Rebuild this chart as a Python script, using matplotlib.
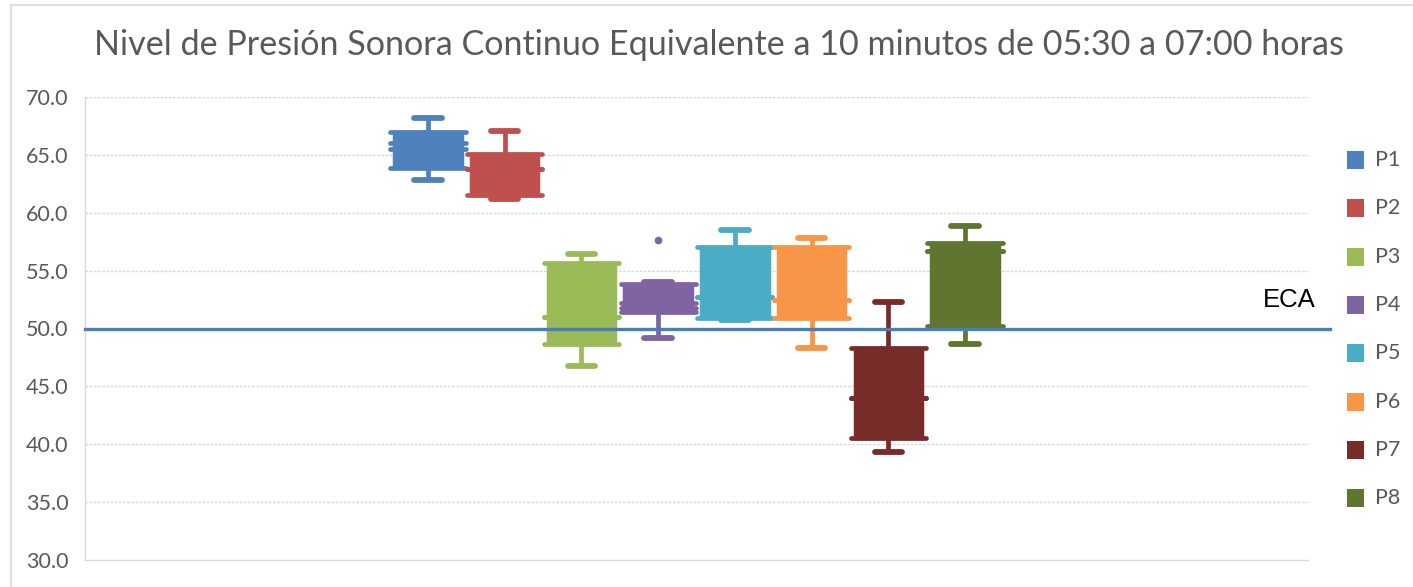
import matplotlib
matplotlib.use("Agg")
import matplotlib.pyplot as plt
from matplotlib.patches import Rectangle
from matplotlib.lines import Line2D

plt.rcParams["font.family"] = ["Lato", "DejaVu Sans"]

# Box-and-whisker statistics per monitoring point (dB)
puntos = ["P1", "P2", "P3", "P4", "P5", "P6", "P7", "P8"]
bigote_sup = [68.2, 67.1, 56.4, 54.0, 58.5, 57.85, 52.3, 58.85]
cuartil_3 = [67.0, 65.1, 55.7, 53.85, 57.0, 57.0, 48.35, 57.4]
mediana = [66.0, 63.8, 51.0, 52.2, 52.7, 52.5, 44.0, 56.7]
media = [65.5, 63.8, 51.0, 51.75, 52.7, 52.5, 44.0, 56.7]
cuartil_1 = [63.85, 61.5, 48.65, 51.45, 50.9, 50.9, 40.5, 50.2]
bigote_inf = [62.83, 61.2, 46.76, 49.2, 50.7, 48.35, 39.36, 48.66]
atipicos = {"P4": [57.65]}
eca = 50.0
eca_label = "ECA"
titulo = "Nivel de Presión Sonora Continuo Equivalente a 10 minutos de 05:30 a 07:00 horas"
y_ticks = [30, 35, 40, 45, 50, 55, 60, 65, 70]

colores = ["#4F81BD", "#C0504D", "#9BBB59", "#8064A2",
           "#4BACC6", "#F79646", "#772C2A", "#5F7530"]

W, H = 1413, 587
fig = plt.figure(figsize=(W / 100, H / 100), dpi=100)
ax = fig.add_axes([85 / W, 1 - 560 / H, (1308 - 85) / W, (560 - 97) / H])

gray_txt = "#595959"
grid_c = "#D9D9D9"

ax.set_ylim(30, 70)
ax.set_xlim(-4.47, 11.47)
ax.set_yticks(y_ticks)
ax.set_yticklabels([f"{v:.1f}" for v in y_ticks], color=gray_txt, fontsize=15.5)
ax.tick_params(axis="y", length=0, pad=12)
ax.set_xticks([])
for s in ["top", "right"]:
    ax.spines[s].set_visible(False)
for s in ["left", "bottom"]:
    ax.spines[s].set_color(grid_c)
    ax.spines[s].set_linewidth(1)
    ax.spines[s].set_linestyle((0, (2, 1)))
for v in y_ticks[1:]:
    ax.axhline(v, color=grid_c, lw=1, ls=(0, (2, 1)), zorder=1)

box_w = 0.88
ext = 0.05
cap_w = 0.36
lw_line = 3.4

for i, nombre in enumerate(puntos):
    c = colores[i]
    x = i
    # whiskers
    ax.plot([x, x], [cuartil_3[i], bigote_sup[i]], color=c, lw=lw_line, solid_capstyle="butt", zorder=3)
    ax.plot([x, x], [bigote_inf[i], cuartil_1[i]], color=c, lw=lw_line, solid_capstyle="butt", zorder=3)
    for yv in (bigote_sup[i], bigote_inf[i]):
        ax.plot([x - cap_w / 2, x + cap_w / 2], [yv, yv], color=c, lw=lw_line + 0.8,
                solid_capstyle="round", zorder=3)
    # box body
    ax.add_patch(Rectangle((x - box_w / 2, cuartil_1[i]), box_w, cuartil_3[i] - cuartil_1[i],
                           facecolor=c, edgecolor=c, lw=2.5, joinstyle="round", zorder=4))
    # quartile, median and mean lines
    for yv in (cuartil_1[i], cuartil_3[i], mediana[i], media[i]):
        ax.plot([x - box_w / 2 - ext, x + box_w / 2 + ext], [yv, yv], color=c, lw=lw_line,
                solid_capstyle="round", zorder=5)
    for yv in atipicos.get(nombre, []):
        ax.plot([x], [yv], "o", color=c, ms=4.5, zorder=5)

# ECA reference line
ax.plot([0, (1330 - 85) / (1308 - 85)], [eca, eca], transform=ax.get_yaxis_transform(),
        color="#4A7EBB", lw=2.4, clip_on=False, zorder=6)
fig.text(1289 / W, 1 - 300 / H, eca_label, fontsize=18.5, color="black",
         ha="center", va="center", family=["Liberation Sans", "DejaVu Sans"])

# title
fig.text(719 / W, 1 - 45 / H, titulo, fontsize=24.6, color=gray_txt, ha="center", va="center")

# legend
for i, nombre in enumerate(puntos):
    yc = 160 + i * 48.3
    fig.patches.append(Rectangle((1347 / W, 1 - (yc + 9) / H), 17 / W, 18 / H,
                                 facecolor=colores[i], edgecolor="none",
                                 transform=fig.transFigure, figure=fig))
    fig.text(1375 / W, 1 - yc / H, nombre, fontsize=15.5, color=gray_txt, ha="left", va="center")

# chart border
fig.add_artist(Line2D([11 / W, 11 / W], [0, 1 - 5 / H], transform=fig.transFigure,
                      color="#D9D9D9", lw=1.2))
fig.add_artist(Line2D([11 / W, 1], [1 - 5 / H, 1 - 5 / H], transform=fig.transFigure,
                      color="#D9D9D9", lw=1.2))

fig.savefig("out.png", dpi=100)
